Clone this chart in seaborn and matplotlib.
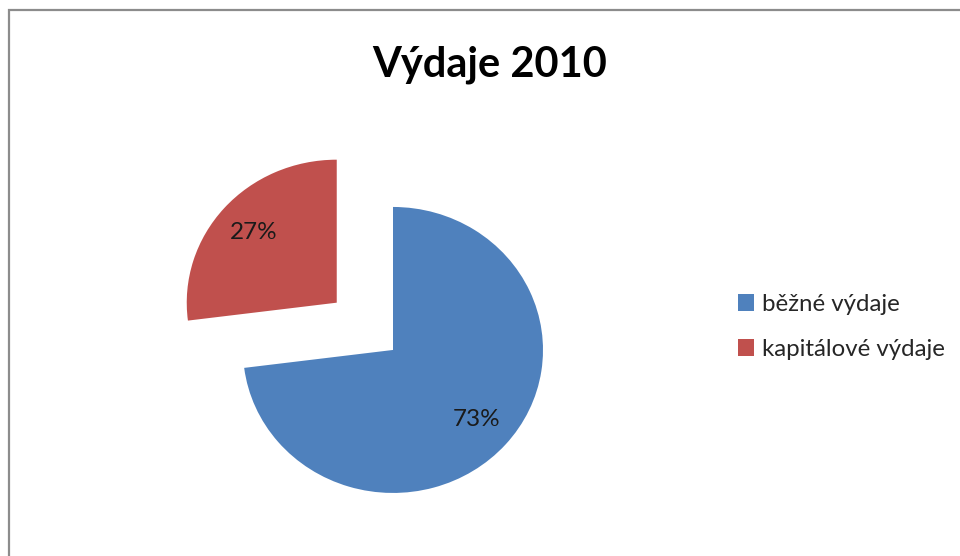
import matplotlib
matplotlib.use('Agg')
import matplotlib.pyplot as plt
from matplotlib.patches import Rectangle
import seaborn as sns

# data
categories = ['běžné výdaje', 'kapitálové výdaje']
shares = [73, 27]
colors = ['#4F81BD', '#C0504D']
title = 'Výdaje 2010'

sns.set_theme(style='white')
plt.rcParams['font.family'] = ['Lato', 'DejaVu Sans']

fig = plt.figure(figsize=(9.6, 5.56), dpi=100)
W, H = 960, 556

# axes placed so that the pie centre lands at (393, 350) px
ax = fig.add_axes([93 / W, 16 / H, 600 / W, 440 / H])
wedges, texts, autotexts = ax.pie(
    shares,
    colors=colors,
    startangle=90,
    counterclock=False,
    explode=[0, 0.5],
    autopct='%d%%',
    pctdistance=0.74,
    wedgeprops={'linewidth': 0},
    textprops={'fontsize': 17.5, 'color': '#1a1a1a'},
)
ax.set_aspect('auto')
ax.set_xlim(-2, 2)
ax.set_ylim(-1.329, 1.748)
ax.axis('off')

fig.text(490 / W, 1 - 77 / H, title, ha='center', va='baseline',
         fontsize=30, fontweight='bold', color='black')

leg = fig.legend(wedges, categories, loc='center left',
                 bbox_to_anchor=(716 / W, 1 - 327 / H),
                 frameon=False, fontsize=17.3, handlelength=0.7,
                 handleheight=0.7, handletextpad=0.3, labelspacing=1.0)

# outer chart-area border (runs off the right and bottom edges)
fig.patches.append(Rectangle((9 / W, -0.1), 2, 1 - 10 / H + 0.1,
                             transform=fig.transFigure, fill=False,
                             edgecolor='#8c8c8c', linewidth=1.6))

fig.savefig('out.png', dpi=100)
